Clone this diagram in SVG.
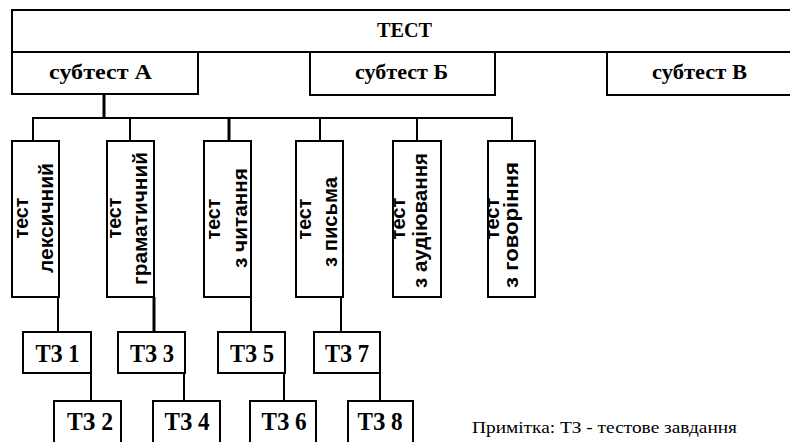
<svg xmlns="http://www.w3.org/2000/svg" width="790" height="442" viewBox="0 0 790 442">
<style>
.box{fill:#fff;stroke:#000;stroke-width:2}
.ln{stroke:#000;stroke-width:2;fill:none}
.hd{font-family:"Liberation Serif","Times New Roman",serif;font-weight:bold;font-size:20px;fill:#000;text-anchor:middle}
.vt{font-family:"Liberation Sans",Arial,sans-serif;font-weight:bold;font-size:20px;fill:#000;text-anchor:middle}
.tz{font-family:"Liberation Serif","Times New Roman",serif;font-weight:bold;font-size:25px;fill:#000;text-anchor:middle}
.nt{font-family:"Liberation Serif","Times New Roman",serif;font-size:16px;fill:#000}
</style>
<rect width="790" height="442" fill="#fff"/>
<g id="connectors">
<line class="ln" x1="104" y1="94" x2="104" y2="118" style="stroke-width:3"/>
<line class="ln" x1="32" y1="118" x2="513" y2="118"/>
<line class="ln" x1="33" y1="118" x2="33" y2="141"/>
<line class="ln" x1="130" y1="118" x2="130" y2="141"/>
<line class="ln" x1="229" y1="118" x2="229" y2="141" style="stroke-width:3"/>
<line class="ln" x1="320" y1="118" x2="320" y2="141"/>
<line class="ln" x1="417" y1="118" x2="417" y2="141"/>
<line class="ln" x1="512" y1="118" x2="512" y2="141"/>
<line class="ln" x1="58" y1="297" x2="58" y2="332"/>
<line class="ln" x1="154" y1="297" x2="154" y2="332" style="stroke-width:3"/>
<line class="ln" x1="251" y1="297" x2="251" y2="332"/>
<line class="ln" x1="341" y1="297" x2="341" y2="332"/>
<line class="ln" x1="91" y1="373" x2="91" y2="401"/>
<line class="ln" x1="184" y1="373" x2="184" y2="401"/>
<line class="ln" x1="284" y1="373" x2="284" y2="401"/>
<line class="ln" x1="380" y1="373" x2="380" y2="401"/>
</g>
<g id="test">
<rect class="box" x="12" y="10" width="800" height="42"/>
<text class="hd" x="404.5" y="37" textLength="55" lengthAdjust="spacingAndGlyphs">ТЕСТ</text>
</g>
<g id="subtestA">
<rect class="box" x="12" y="52" width="186" height="42"/>
<text class="hd" x="100.5" y="79" textLength="103" lengthAdjust="spacingAndGlyphs">субтест А</text>
</g>
<g id="subtestB">
<rect class="box" x="310" y="52" width="185" height="43"/>
<text class="hd" x="401.5" y="79" textLength="93" lengthAdjust="spacingAndGlyphs">субтест Б</text>
</g>
<g id="subtestV">
<rect class="box" x="607" y="52" width="200" height="43"/>
<text class="hd" x="699.5" y="79" textLength="95" lengthAdjust="spacingAndGlyphs">субтест В</text>
</g>
<g id="lex">
<rect class="box" x="12" y="141" width="47" height="156"/>
<text class="vt" transform="translate(28,218) rotate(-90)" textLength="41" lengthAdjust="spacingAndGlyphs">тест</text>
<text class="vt" transform="translate(53,218) rotate(-90)" textLength="110" lengthAdjust="spacingAndGlyphs">лексичний</text>
</g>
<g id="gram">
<rect class="box" x="107" y="141" width="47" height="156"/>
<text class="vt" transform="translate(121,218) rotate(-90)" textLength="41" lengthAdjust="spacingAndGlyphs">тест</text>
<text class="vt" transform="translate(147,218.5) rotate(-90)" textLength="133" lengthAdjust="spacingAndGlyphs">граматичний</text>
</g>
<g id="read">
<rect class="box" x="204" y="141" width="47" height="156"/>
<text class="vt" transform="translate(220,219) rotate(-90)" textLength="41" lengthAdjust="spacingAndGlyphs">тест</text>
<text class="vt" transform="translate(247,218) rotate(-90)" textLength="100" lengthAdjust="spacingAndGlyphs">з читання</text>
</g>
<g id="write">
<rect class="box" x="296" y="141" width="47" height="156"/>
<text class="vt" transform="translate(311,219) rotate(-90)" textLength="41" lengthAdjust="spacingAndGlyphs">тест</text>
<text class="vt" transform="translate(337,222) rotate(-90)" textLength="90" lengthAdjust="spacingAndGlyphs">з письма</text>
</g>
<g id="listen">
<rect class="box" x="393" y="141" width="48" height="156"/>
<text class="vt" transform="translate(405,218.5) rotate(-90)" textLength="42" lengthAdjust="spacingAndGlyphs">тест</text>
<text class="vt" transform="translate(427,220.5) rotate(-90)" textLength="135" lengthAdjust="spacingAndGlyphs">з аудіювання</text>
</g>
<g id="speak">
<rect class="box" x="488" y="141" width="47" height="156"/>
<text class="vt" transform="translate(499,218.5) rotate(-90)" textLength="42" lengthAdjust="spacingAndGlyphs">тест</text>
<text class="vt" transform="translate(518,225) rotate(-90)" textLength="126" lengthAdjust="spacingAndGlyphs">з говоріння</text>
</g>
<g id="tz1"><rect class="box" x="23" y="332" width="68" height="41"/><text class="tz" x="57.5" y="362" textLength="44" lengthAdjust="spacingAndGlyphs">ТЗ 1</text></g>
<g id="tz3"><rect class="box" x="118" y="332" width="67" height="41"/><text class="tz" x="152" y="362" textLength="44" lengthAdjust="spacingAndGlyphs">ТЗ 3</text></g>
<g id="tz5"><rect class="box" x="218" y="332" width="67" height="41"/><text class="tz" x="252" y="362" textLength="44" lengthAdjust="spacingAndGlyphs">ТЗ 5</text></g>
<g id="tz7"><rect class="box" x="314" y="332" width="66" height="41"/><text class="tz" x="347" y="362" textLength="44" lengthAdjust="spacingAndGlyphs">ТЗ 7</text></g>
<g id="tz2"><rect class="box" x="54" y="401" width="67" height="50"/><text class="tz" x="90" y="430" textLength="46" lengthAdjust="spacingAndGlyphs">ТЗ 2</text></g>
<g id="tz4"><rect class="box" x="153" y="401" width="67" height="50"/><text class="tz" x="187" y="430" textLength="45" lengthAdjust="spacingAndGlyphs">ТЗ 4</text></g>
<g id="tz6"><rect class="box" x="250" y="401" width="66" height="50"/><text class="tz" x="284" y="430" textLength="45" lengthAdjust="spacingAndGlyphs">ТЗ 6</text></g>
<g id="tz8"><rect class="box" x="348" y="401" width="65" height="50"/><text class="tz" x="380" y="430" textLength="45" lengthAdjust="spacingAndGlyphs">ТЗ 8</text></g>
<g id="note">
<text class="nt" x="472" y="433" textLength="265" lengthAdjust="spacingAndGlyphs">Примітка: ТЗ - тестове завдання</text>
</g>
</svg>
